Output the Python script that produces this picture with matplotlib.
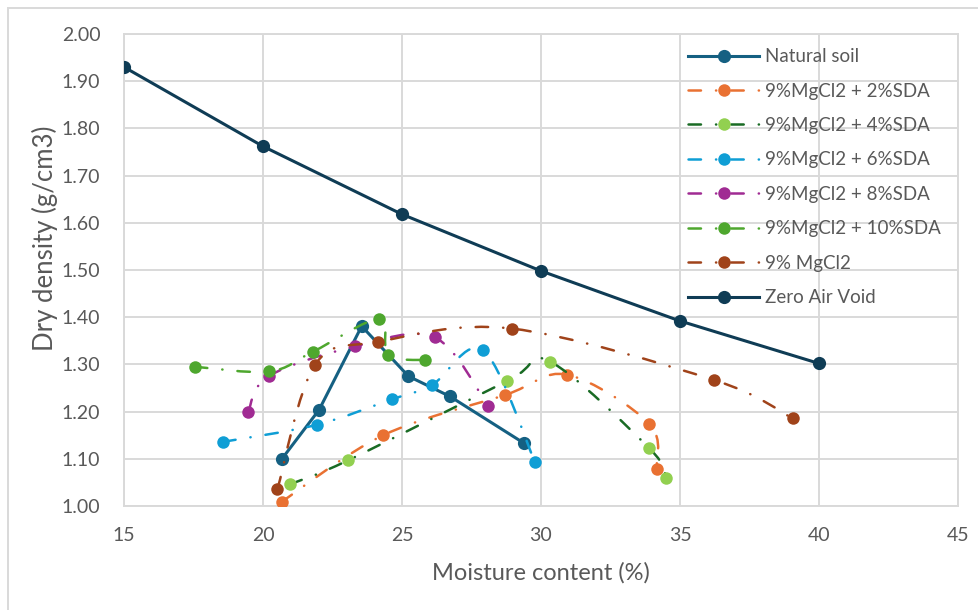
import numpy as np
import matplotlib
matplotlib.use('Agg')
import matplotlib.pyplot as plt
from matplotlib.path import Path
from matplotlib.patches import PathPatch, Rectangle
from matplotlib.lines import Line2D

plt.rcParams['font.family'] = ['Lato', 'DejaVu Sans']

# data: moisture content (%) and dry density (g/cm3)
natural_x = [20.67, 22.02, 23.55, 25.23, 26.73, 29.39]
natural_y = [1.099, 1.204, 1.381, 1.275, 1.232, 1.133]

sda2_x = [20.67, 24.33, 28.70, 30.95, 33.90, 34.16]
sda2_y = [1.009, 1.150, 1.235, 1.278, 1.174, 1.078]

sda4_x = [20.97, 23.07, 28.79, 30.32, 33.90, 34.50]
sda4_y = [1.046, 1.097, 1.265, 1.306, 1.122, 1.060]

sda6_x = [18.57, 21.93, 24.63, 26.07, 27.92, 29.78]
sda6_y = [1.136, 1.172, 1.226, 1.256, 1.330, 1.094]

sda8_x = [19.47, 20.20, 23.30, 26.18, 28.10]
sda8_y = [1.200, 1.275, 1.338, 1.357, 1.212]

sda10_x = [17.55, 20.23, 21.80, 24.17, 24.50, 25.83]
sda10_y = [1.295, 1.285, 1.327, 1.396, 1.320, 1.309]

mgcl2_x = [20.52, 21.87, 24.15, 28.94, 36.22, 39.05]
mgcl2_y = [1.036, 1.299, 1.348, 1.376, 1.267, 1.186]

zav_x = [15, 20, 25, 30, 35, 40]
zav_y = [1.930, 1.762, 1.618, 1.498, 1.392, 1.302]

labels = ['Natural soil', '9%MgCl2 + 2%SDA', '9%MgCl2 + 4%SDA', '9%MgCl2 + 6%SDA',
          '9%MgCl2 + 8%SDA', '9%MgCl2 + 10%SDA', '9% MgCl2', 'Zero Air Void']

x_ticks = [15, 20, 25, 30, 35, 40, 45]
y_ticks = [1.0, 1.1, 1.2, 1.3, 1.4, 1.5, 1.6, 1.7, 1.8, 1.9, 2.0]


def smooth_path(xs, ys):
    # excel style smoothed line: catmull-rom segments as bezier curves
    pts = np.column_stack([xs, ys]).astype(float)
    n = len(pts)
    verts = [pts[0]]
    codes = [Path.MOVETO]
    for i in range(n - 1):
        p0 = pts[max(i - 1, 0)]
        p1 = pts[i]
        p2 = pts[i + 1]
        p3 = pts[min(i + 2, n - 1)]
        verts += [p1 + (p2 - p0) / 6, p2 - (p3 - p1) / 6, p2]
        codes += [Path.CURVE4] * 3
    return Path(verts, codes)


dashdot = (0, (5, 6, 0.1, 6))
# (x, y, line colour, marker colour, line style, line width, marker size, smooth)
series = [
    (natural_x, natural_y, '#156082', '#156082', '-', 2.2, 9.5, False),
    (sda2_x, sda2_y, '#E97132', '#E97132', dashdot, 1.8, 9, True),
    (sda4_x, sda4_y, '#196B24', '#92D050', dashdot, 1.8, 9, True),
    (sda6_x, sda6_y, '#0F9ED5', '#0F9ED5', dashdot, 1.8, 9, True),
    (sda8_x, sda8_y, '#A02B93', '#A02B93', dashdot, 1.8, 9, True),
    (sda10_x, sda10_y, '#4EA72E', '#4EA72E', dashdot, 1.8, 9, True),
    (mgcl2_x, mgcl2_y, '#A0431A', '#A0431A', dashdot, 1.8, 9, True),
    (zav_x, zav_y, '#0F3C55', '#0F3C55', '-', 2.2, 9.5, False),
]

fig = plt.figure(figsize=(9.79, 6.10), dpi=100)
ax = fig.add_axes([124 / 979, 1 - 506 / 610, 834 / 979, 472 / 610])

grid_c = '#D9D9D9'
text_c = '#595959'

handles = []
for i, (xs, ys, lc, mc, ls, lw, ms, smooth) in enumerate(series):
    if smooth:
        patch = PathPatch(smooth_path(xs, ys), fill=False, edgecolor=lc, linewidth=lw,
                          linestyle=ls, capstyle='round', joinstyle='round', zorder=3 + i * 0.1)
        ax.add_patch(patch)
    else:
        ax.plot(xs, ys, color=lc, linewidth=lw, linestyle=ls, solid_joinstyle='round',
                zorder=3 + i * 0.1)
    ax.plot(xs, ys, linestyle='none', marker='o', markersize=ms, color=mc,
            markeredgewidth=0, zorder=3.05 + i * 0.1)
    h = Line2D([], [], color=lc, linewidth=lw, linestyle=ls, marker='o', markersize=ms,
               markerfacecolor=mc, markeredgewidth=0, dash_capstyle='round')
    handles.append(h)

ax.set_xlim(15, 45)
ax.set_ylim(1.0, 2.0)
ax.set_xticks(x_ticks)
ax.set_yticks(y_ticks)
ax.set_yticklabels(['%.2f' % v for v in y_ticks])
ax.grid(True, color=grid_c, linewidth=1.4, zorder=0)
ax.set_axisbelow(True)
for sp in ax.spines.values():
    sp.set_color(grid_c)
    sp.set_linewidth(1.4)
ax.tick_params(length=0, labelsize=14, labelcolor=text_c)
ax.tick_params(axis='y', pad=17)
ax.tick_params(axis='x', pad=15)

ax.set_xlabel('Moisture content (%)', fontsize=17, color=text_c)
ax.set_ylabel('Dry density (g/cm3)', fontsize=18.5, color=text_c)
ax.xaxis.set_label_coords(0.5, -0.118)
ax.yaxis.set_label_coords(-0.079, 0.568)

leg = ax.legend(handles, labels, loc='upper left', bbox_to_anchor=(0.672, 0.978),
                frameon=False, fontsize=13.5, handlelength=3.8, handletextpad=0.3,
                labelspacing=0.93, borderaxespad=0, borderpad=0.2, labelcolor=text_c)

# outer chart border (cut off at right and bottom)
fig.add_artist(Rectangle((8 / 979, -0.2), 1.5, 1.2 - 8 / 610, transform=fig.transFigure,
                         fill=False, edgecolor=grid_c, linewidth=1.4))

fig.savefig('out.png', dpi=100)
plt.close(fig)
